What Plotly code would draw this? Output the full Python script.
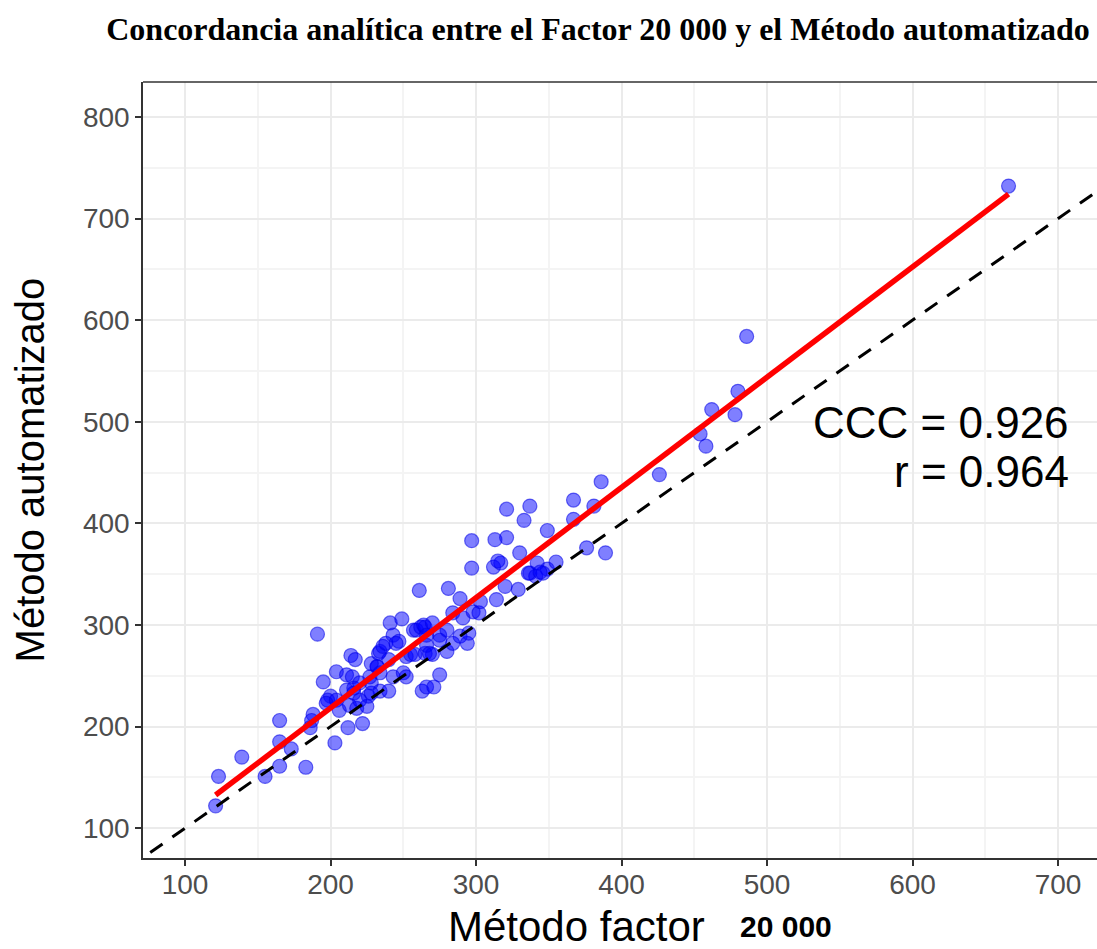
import plotly.graph_objects as go

# Data (Método factor 20 000 vs Método automatizado)
factor_x = [
    121, 123, 139, 155, 165, 165, 165, 173, 183, 188, 187, 186, 203, 191, 195, 204,
    212, 222, 200, 198, 197, 204, 206, 213, 218, 225, 226,
    214, 217, 211, 215, 211, 216, 216, 220, 220, 228, 228, 227, 232,
    234, 232, 228, 233, 234, 236, 238, 240, 241, 249, 243, 247, 245,
    234, 240, 243, 250, 252, 252, 255, 258, 265, 270,
    257, 259, 262, 265, 264, 261, 263, 266, 271,
    266, 266, 270, 275, 275, 280, 280, 268, 275,
    281, 289, 284, 291, 298, 302, 303, 314, 320, 329,
    284, 289, 294, 295,
    297, 297, 312, 313, 317, 321, 315,
    321, 330, 333, 337, 337, 341, 346, 349, 349, 355, 342, 336, 344,
    367, 367, 381, 386, 376, 389,
    426, 454, 458, 462, 478, 480, 486, 666,
]
auto_y = [
    122, 151, 170, 151, 206, 185, 161, 178, 160, 212, 206, 199, 184, 291, 244, 254,
    199, 203, 230, 226, 223, 226, 216, 221, 218, 220, 230,
    270, 266, 251, 249, 236, 238, 233, 226, 243, 233, 243, 249, 259,
    253, 259, 262, 272, 274, 279, 282, 266, 302, 306, 290, 284, 282,
    235, 235, 249, 253, 249, 269, 271, 271, 272, 271,
    295, 295, 298, 298, 300, 334, 235, 239, 239,
    280, 290, 302, 290, 285, 295, 274, 272, 251,
    336, 326, 312, 307, 313, 312, 323, 325, 338, 335,
    282, 289, 282, 292,
    356, 383, 357, 384, 361, 386, 363,
    414, 371, 403, 417, 351, 348, 351, 355, 393, 362, 361, 351, 352,
    423, 404, 417, 441, 376, 371,
    448, 488, 476, 512, 507, 530, 584, 732,
]

# Regression line and statistics
fit_intercept = 1.4
fit_slope = 1.085
identity_x = [0, 1000]
ccc_text = "CCC = 0.926"
r_text = "r = 0.964"

x_ticks = [100, 200, 300, 400, 500, 600, 700]
y_ticks = [100, 200, 300, 400, 500, 600, 700, 800]

fit_x = [min(factor_x), max(factor_x)]
fit_y = [fit_intercept + fit_slope * v for v in fit_x]

fig = go.Figure()
fig.add_trace(go.Scatter(
    x=factor_x, y=auto_y, mode="markers",
    marker=dict(size=14, color="rgba(0,0,255,0.5)",
                line=dict(color="rgba(0,0,230,0.55)", width=1.2)),
    showlegend=False, hoverinfo="x+y",
))
fig.add_trace(go.Scatter(
    x=identity_x, y=identity_x, mode="lines",
    line=dict(color="black", width=3, dash="15px,12px"),
    showlegend=False, hoverinfo="skip",
))
fig.add_trace(go.Scatter(
    x=fit_x, y=fit_y, mode="lines",
    line=dict(color="#FF0000", width=5.5),
    showlegend=False, hoverinfo="skip",
))

axis_common = dict(
    showgrid=True, gridcolor="#EBEBEB", gridwidth=2.2,
    zeroline=False, showline=True, linecolor="#333333", linewidth=1.5,
    ticks="outside", ticklen=6, tickwidth=1.5, tickcolor="#333333",
    tickfont=dict(family="Liberation Sans", size=28, color="#4D4D4D"),
    minor=dict(showgrid=True, gridcolor="#F4F4F4", gridwidth=1.6, dtick=50, ticks=""),
)

fig.update_layout(
    width=1097, height=949,
    paper_bgcolor="white", plot_bgcolor="white",
    margin=dict(l=143, r=0, t=82, b=91),
    title=dict(
        text="<b>Concordancia analítica entre el Factor 20 000 y el Método automatizado</b>",
        font=dict(family="Liberation Serif", size=32, color="black"),
        x=(598 / 1097), xanchor="center", y=1 - 29 / 949, yanchor="middle",
    ),
    xaxis=dict(range=[71.1, 726.8], tickvals=x_ticks, mirror=False, **axis_common),
    yaxis=dict(range=[70.7, 834.4], tickvals=y_ticks, **axis_common),
    showlegend=False,
)
try:
    fig.update_xaxes(ticklabelstandoff=-5)
except Exception:
    pass

# top border of the panel
fig.add_shape(type="line", xref="paper", yref="paper", x0=0, x1=1, y0=1, y1=1,
              line=dict(color="#333333", width=1.5))

# axis titles as annotations
fig.add_annotation(text="Método automatizado", xref="paper", yref="paper",
                   x=-0.118, y=(858 - 470) / 776, textangle=-90, showarrow=False,
                   xanchor="center", yanchor="middle",
                   font=dict(family="Liberation Sans", size=40, color="black"))
fig.add_annotation(text="Método factor", xref="paper", yref="paper",
                   x=(576 - 143) / 954, y=(858 - 927) / 776, showarrow=False,
                   xanchor="center", yanchor="middle",
                   font=dict(family="Liberation Sans", size=42, color="black"))
fig.add_annotation(text="<b>20 000</b>", xref="paper", yref="paper",
                   x=(786 - 143) / 954, y=(858 - 927) / 776, showarrow=False,
                   xanchor="center", yanchor="middle",
                   font=dict(family="Liberation Sans", size=30, color="black"))
fig.add_annotation(text=ccc_text, xref="paper", yref="paper",
                   x=(1071 - 143) / 954, y=(858 - 422) / 776, showarrow=False,
                   xanchor="right", yanchor="middle",
                   font=dict(family="Liberation Sans", size=44, color="black"))
fig.add_annotation(text=r_text, xref="paper", yref="paper",
                   x=(1071 - 143) / 954, y=(858 - 471) / 776, showarrow=False,
                   xanchor="right", yanchor="middle",
                   font=dict(family="Liberation Sans", size=44, color="black"))

fig.write_html("out.html", config={"displayModeBar": False},
               post_script="document.body.style.margin='0px';")
